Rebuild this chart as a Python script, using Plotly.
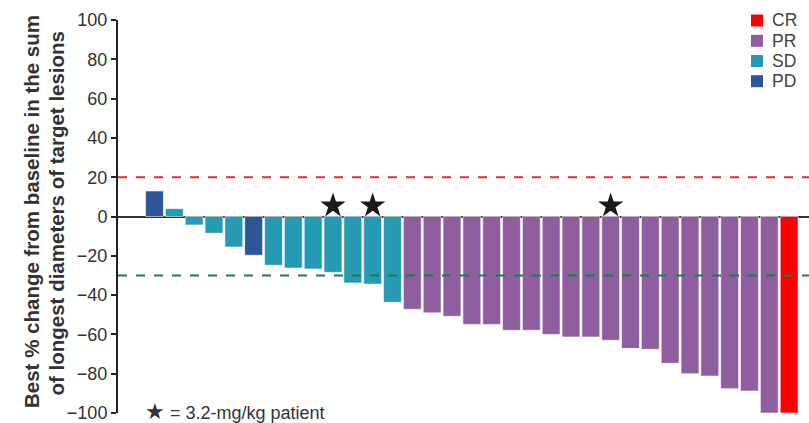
import plotly.graph_objects as go

# ---- data ----
values = [13, 4, -4.3, -8.5, -15.5, -19.7, -24.8, -26.2, -26.7, -28.4, -33.8, -34.4, -43.7,
          -47.2, -49, -50.8, -54.9, -54.9, -57.9, -57.9, -60, -61.3, -61.3, -63, -67.1, -67.6,
          -74.7, -80, -81.2, -87.6, -88.8, -100, -100]
response = ["PD", "SD", "SD", "SD", "SD", "PD", "SD", "SD", "SD", "SD", "SD", "SD", "SD"] + \
           ["PR"] * 19 + ["CR"]
star_idx = [9, 11, 23]
star_y = [5.5, 5.5, 5.5]
categories = ["CR", "PR", "SD", "PD"]
colors = {"CR": "#FF0000", "PR": "#8F5E9E", "SD": "#2699B3", "PD": "#2E5597"}
y_ticks = [100, 80, 60, 40, 20, 0, -20, -40, -60, -80, -100]
ref_lines = {"pd": 20, "pr": -30}

FONT = "Liberation Sans, Arial, sans-serif"

fig = go.Figure()
for cat in categories:
    xs = [i for i, r in enumerate(response) if r == cat]
    ys = [values[i] for i in xs]
    fig.add_trace(go.Bar(x=xs, y=ys, name=cat, marker_color=colors[cat],
                         marker_line=dict(color="rgba(255,255,255,0.7)", width=0.8),
                         showlegend=False))

fig.add_trace(go.Scatter(x=star_idx, y=star_y, mode="markers",
                         marker=dict(symbol="star", size=19, color="#1a1a1a"),
                         showlegend=False))

fig.add_hline(y=ref_lines["pd"], line=dict(color="#D6323C", width=2, dash="9px,9px"))
fig.add_hline(y=ref_lines["pr"], line=dict(color="#1E7A50", width=2, dash="9px,9px"))

L, R, T, B = 118, 0, 20, 10
W, H = 809, 423
pw, ph = W - L - R, H - T - B

def px(x):
    return (x - L) / pw

def py(y):
    return (H - B - y) / ph

# manual legend
leg_y = [20.5, 40.8, 61, 81.2]
for cat, yc in zip(categories, leg_y):
    fig.add_shape(type="rect", xref="paper", yref="paper",
                  x0=px(751), x1=px(763), y0=py(yc + 6), y1=py(yc - 6),
                  fillcolor=colors[cat], line_width=0)
    fig.add_annotation(xref="paper", yref="paper", x=px(770), y=py(yc), text=cat,
                       showarrow=False, xanchor="left", yanchor="middle",
                       font=dict(size=17.5, color="#444", family=FONT))

# y title (two lines)
fig.add_annotation(xref="paper", yref="paper", x=px(31), y=py(212),
                   text="<b>Best % change from baseline in the sum</b>",
                   textangle=-90, showarrow=False, xanchor="center", yanchor="middle",
                   font=dict(size=20.5, color="#333", family=FONT))
fig.add_annotation(xref="paper", yref="paper", x=px(55.5), y=py(213),
                   text="<b>of longest diameters of target lesions</b>",
                   textangle=-90, showarrow=False, xanchor="center", yanchor="middle",
                   font=dict(size=20.5, color="#333", family=FONT))

# footnote
fig.add_annotation(xref="paper", yref="paper", x=px(143), y=py(411),
                   text="<span style=\"font-size:22px\">★</span> = 3.2-mg/kg patient",
                   showarrow=False, xanchor="left", yanchor="middle",
                   font=dict(size=18, color="#333", family=FONT))

fig.update_layout(
    width=W, height=H,
    margin=dict(l=L, r=R, t=T, b=B),
    plot_bgcolor="white", paper_bgcolor="white",
    bargap=0.1,
    font=dict(family=FONT, color="#333"),
    xaxis=dict(range=[-1.84, 33], showticklabels=False, showgrid=False,
               zeroline=False, showline=False, ticks=""),
    yaxis=dict(range=[-100, 100], tickvals=y_ticks, showgrid=False,
               showline=True, linecolor="#222", linewidth=2,
               ticks="outside", ticklen=5, tickwidth=2, tickcolor="#222",
               tickfont=dict(size=18, color="#333", family=FONT),
               ticklabeloverflow="allow",
               zeroline=True, zerolinecolor="#333", zerolinewidth=2),
)

fig.write_html("out.html", config={"displayModeBar": False},
               post_script="document.body.style.margin='0';document.body.style.overflow='hidden';")
